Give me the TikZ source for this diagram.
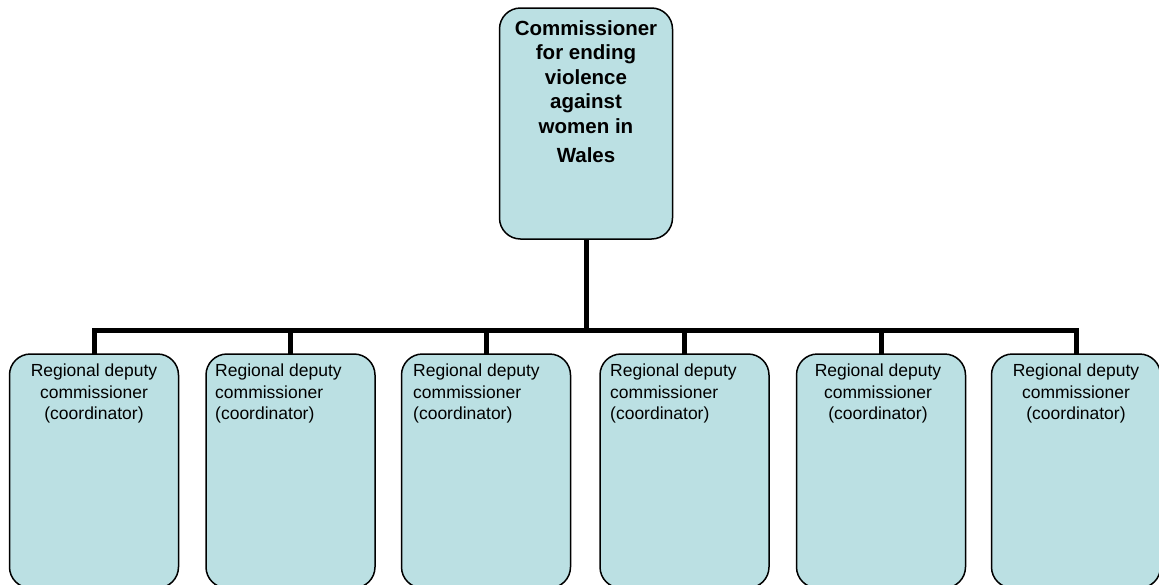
\documentclass[tikz,border=0pt]{standalone}
\usepackage{fontspec}
\setmainfont{Liberation Sans}
\definecolor{boxfill}{RGB}{187,224,227}
\begin{document}
\begin{tikzpicture}[x=1pt,y=-1pt,
  orgbox/.style={draw=black,line width=1.5pt,fill=boxfill,rounded corners=21pt,
    rectangle,inner sep=0pt,outer sep=0pt},
  link/.style={line width=5pt,draw=black},
  toptext/.style={inner sep=0pt,anchor=north,align=center,
    font=\fontsize{20.5}{24.5}\selectfont\bfseries},
  subtext/.style={inner sep=0pt,anchor=north,align=center,
    font=\fontsize{17.5}{21.5}\selectfont},
  subtextl/.style={inner sep=0pt,anchor=north west,align=left,
    font=\fontsize{17.5}{21.5}\selectfont}]
\useasboundingbox (0,0) rectangle (1159,584);
\begin{scope}
\clip (0,0) rectangle (1159,584);
% top box
\node[orgbox,minimum width=173pt,minimum height=231pt] (top) at (586,123.5) {};
\node[toptext] (toptxt) at (586,20) {Commissioner\\for ending\\violence\\against\\women in\\[5pt]Wales};
% bottom boxes
\foreach \i/\x in {1/94,2/290.5,3/486,4/684.5,5/881,6/1076}{
  \node[orgbox,minimum width=169pt,minimum height=234pt] (b\i) at (\x,471) {};
}
\coordinate (bar) at (586,330);
\draw[link] (top.south) -- (top.south |- bar);
\draw[link] (b1.north) |- (b6.north |- bar) -- (b6.north);
\foreach \i in {2,3,4,5}{
  \draw[link] (b\i.north) -- (b\i.north |- bar);
}
\node[subtext] (t1) at (94,364) {Regional deputy\\commissioner\\(coordinator)};
\node[subtextl] (t2) at (215,364) {Regional deputy\\commissioner\\(coordinator)};
\node[subtextl] (t3) at (413,364) {Regional deputy\\commissioner\\(coordinator)};
\node[subtextl] (t4) at (610,364) {Regional deputy\\commissioner\\(coordinator)};
\node[subtext] (t5) at (878,364) {Regional deputy\\commissioner\\(coordinator)};
\node[subtext] (t6) at (1076,364) {Regional deputy\\commissioner\\(coordinator)};
\end{scope}
\end{tikzpicture}
\end{document}
